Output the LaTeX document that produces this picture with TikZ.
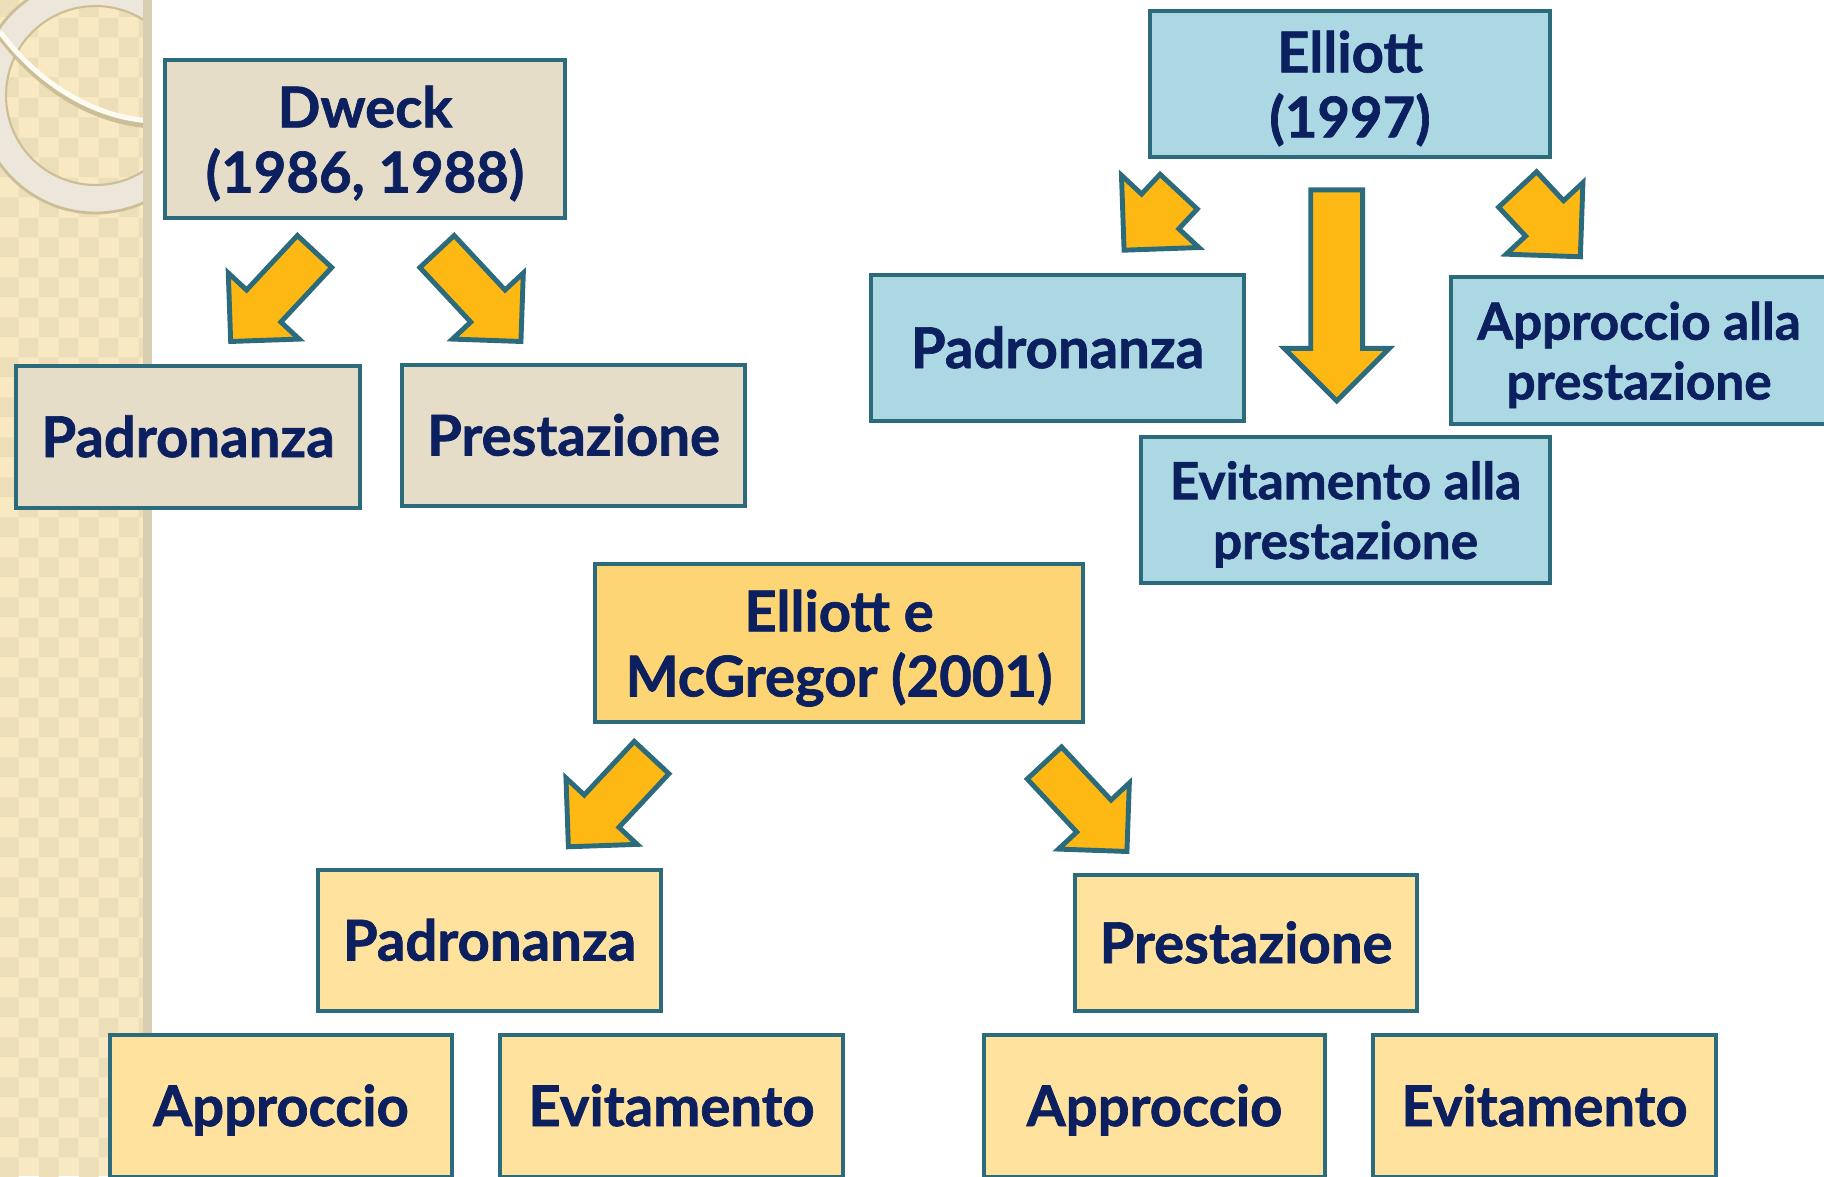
\documentclass[tikz,border=0pt]{standalone}
\usepackage{fontspec}
\setmainfont{Lato}[BoldFeatures={FakeBold=1.2}]
\usetikzlibrary{positioning,shapes.arrows,patterns}
\definecolor{edgeteal}{RGB}{43,107,123}
\definecolor{textnavy}{RGB}{12,32,96}
\definecolor{dweckfill}{RGB}{229,221,200}
\definecolor{elliottfill}{RGB}{171,216,226}
\definecolor{emtop}{RGB}{253,213,117}
\definecolor{emfill}{RGB}{254,226,157}
\definecolor{arrowfill}{RGB}{253,184,19}
\definecolor{stripfill}{RGB}{248,233,195}
\definecolor{stripdot}{RGB}{236,222,184}
\definecolor{stripedge}{RGB}{216,206,178}
\definecolor{ringfill}{RGB}{236,231,218}
\definecolor{ringline}{RGB}{204,190,150}

\begin{document}
\begin{tikzpicture}[x=0.1mm,y=-0.1mm,
  box/.style={draw=edgeteal,line width=1.35pt,align=center,text=textnavy,inner sep=0pt,text depth=0pt,
    font=\bfseries\fontsize{16}{18.5}\selectfont},
  word/.style={text height=11.4pt},
  small/.style={font=\bfseries\fontsize{14.6}{17}\selectfont},
  blockarrow/.style={single arrow,draw=edgeteal,fill=arrowfill,line width=1.4pt,inner sep=0pt,
    minimum width=0pt,text depth=0pt,anchor=tip}]
  \useasboundingbox (0,0) rectangle (1824,1176);
  \clip (0,0) rectangle (1824,1176);

  \fill[stripfill] (0,0) rectangle (143,1176);
  \fill[pattern=checkerboard,pattern color=stripdot] (0,0) rectangle (143,1176);
  \begin{scope}
    \clip (0,0) rectangle (143,1176);
    \draw[ringfill,line width=2.8mm] (95.5,95.5) circle[radius=103.5];
    \draw[ringline,line width=0.6pt] (95.5,95.5) circle[radius=89.5];
    \draw[ringline,line width=0.8pt] (95.5,95.5) circle[radius=117.5];
    \draw[ringline,line width=0.5mm] (0,37) .. controls (40,90) and (95,123) .. (152,126);
    \draw[white!80!stripfill,line width=0.5mm] (0,32) .. controls (40,85) and (95,118) .. (152,121);
  \end{scope}
  \fill[stripedge] (143,0) rectangle (152,1176);

  \node[box,fill=dweckfill,minimum width=40mm,minimum height=15.8mm] (dweck) at (365,139) {Dweck\\(1986, 1988)};
  \node[box,word,fill=dweckfill,minimum width=34.4mm,minimum height=14.2mm] (dPadr) at (188,437) {Padronanza};
  \node[box,word,fill=dweckfill,minimum width=34.3mm,minimum height=14.1mm] (dPrest) at (573.5,435.5) {Prestazione};

  \node[box,fill=elliottfill,minimum width=40mm,minimum height=14.6mm] (elliott) at (1350,84) {Elliott\\(1997)};
  \node[box,word,fill=elliottfill,minimum width=37.3mm,minimum height=14.6mm] (ePadr) at (1057.5,348) {Padronanza};
  \node[box,small,fill=elliottfill,minimum width=37.6mm,minimum height=14.7mm] (eAppr) at (1639,350.5) {Approccio alla\\prestazione};
  \node[box,small,fill=elliottfill,minimum width=40.9mm,minimum height=14.6mm] (eEvit) at (1345.5,510) {Evitamento alla\\prestazione};

  \node[box,fill=emtop,minimum width=48.8mm,minimum height=15.8mm] (em) at (839,643) {Elliott e\\McGregor (2001)};
  \node[box,word,fill=emfill,minimum width=34.3mm,minimum height=14.1mm] (emPadr) at (489.5,940.5) {Padronanza};
  \node[box,word,fill=emfill,minimum width=34.2mm,minimum height=13.6mm] (emPrest) at (1246,943) {Prestazione};
  \node[box,word,fill=emfill,minimum width=34.2mm,minimum height=14.2mm] (emPadrA) at (281,1106) {Approccio};
  \node[box,word,fill=emfill,minimum width=34.3mm,minimum height=14.2mm] (emPadrE) at (671.5,1106) {Evitamento};
  \node[box,word,fill=emfill,minimum width=34.1mm,minimum height=14.2mm] (emPrestA) at (1154.5,1106) {Approccio};
  \node[box,word,fill=emfill,minimum width=34.3mm,minimum height=14.2mm] (emPrestE) at (1544.5,1106) {Evitamento};

  \node[blockarrow,minimum height=12.3mm,text height=4.2mm,single arrow head extend=2.5mm,rotate=-133] (dArrL) at (228.3,344) {};
  \node[blockarrow,minimum height=12.3mm,text height=4.2mm,single arrow head extend=2.5mm,rotate=-47] (dArrR) at (523.3,344) {};
  \node[blockarrow,minimum height=8mm,text height=4.6mm,single arrow head extend=2.75mm,rotate=-133] (eArrL) at (1121.7,252.7) {};
  \node[blockarrow,minimum height=21.1mm,text height=4.7mm,single arrow head extend=2.65mm,rotate=-90] (eArrM) at (1336.7,404.3) {};
  \node[blockarrow,minimum height=9.2mm,text height=4.7mm,single arrow head extend=2.65mm,rotate=-47] (eArrR) at (1582.7,259.3) {};
  \node[blockarrow,minimum height=12.2mm,text height=4.25mm,single arrow head extend=2.5mm,rotate=-133] (emArrL) at (566,849.3) {};
  \node[blockarrow,minimum height=12.1mm,text height=4.2mm,single arrow head extend=2.5mm,rotate=-47] (emArrR) at (1129.3,854) {};
\end{tikzpicture}
\end{document}
